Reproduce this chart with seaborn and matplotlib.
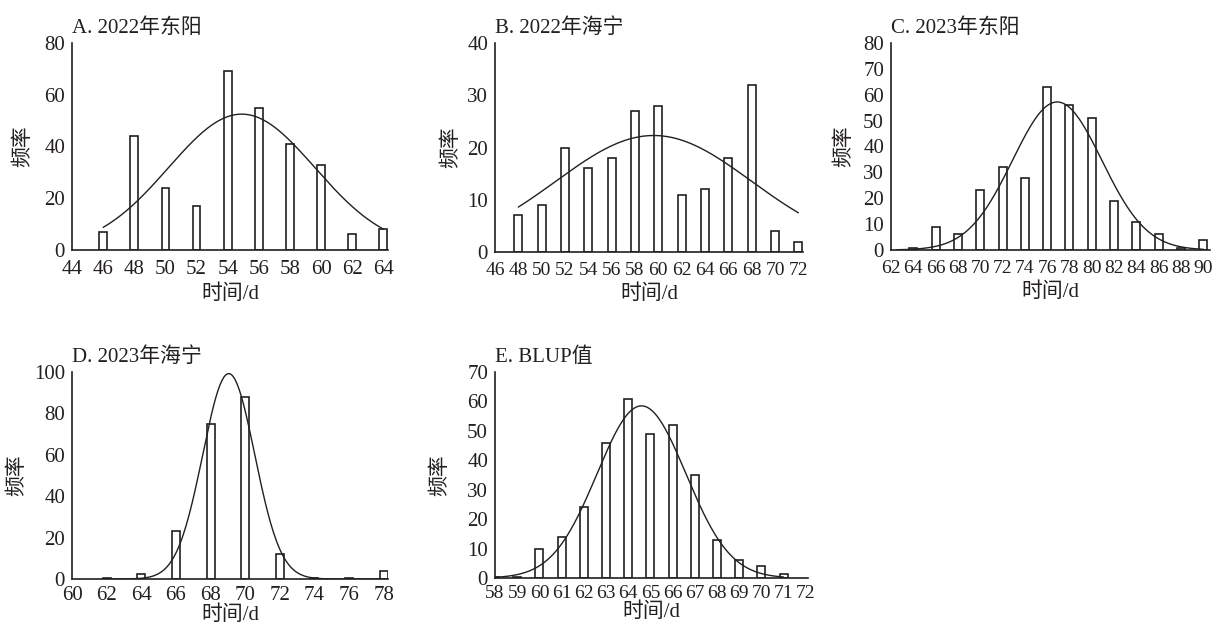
"""
五个环境下时间/d 频率分布直方图 + 正态拟合曲线
"""
import numpy as np
import matplotlib
matplotlib.use("Agg")
import matplotlib.pyplot as plt
import seaborn as sns

# ---- 数据 ----
a_days = [46, 48, 50, 52, 54, 56, 58, 60, 62, 64]
a_freq = [7, 44, 24, 17, 69, 55, 41, 33, 6, 8]

b_days = [48, 50, 52, 54, 56, 58, 60, 62, 64, 66, 68, 70, 72]
b_freq = [7, 9, 20, 16, 18, 27, 28, 11, 12, 18, 32, 4, 2]

c_days = [64, 66, 68, 70, 72, 74, 76, 78, 80, 82, 84, 86, 88, 90]
c_freq = [0.6, 9, 6, 23, 32, 28, 63, 56, 51, 19, 11, 6, 0.6, 4]

d_days = [62, 64, 66, 68, 70, 72, 74, 76, 78]
d_freq = [0.6, 2.5, 23, 75, 88, 12, 0.6, 0.6, 4]

e_days = [58, 59, 60, 61, 62, 63, 64, 65, 66, 67, 68, 69, 70, 71]
e_freq = [0.4, 0.5, 10, 14, 24, 46, 61, 49, 52, 35, 13, 6, 4, 1.5]

# 正态拟合曲线: 均值, 标准差, 峰值, 起点, 终点
a_curve = [54.9, 4.7, 52.5, 46, 64]
b_curve = [59.6, 8.4, 22.3, 48, 72]
c_curve = [76.9, 4.0, 57.2, 62.5, 90]
d_curve = [69.05, 1.5, 99.2, 62, 78]
e_curve = [64.6, 2.0, 58.5, 58, 71]

titles = ["A. 2022年东阳", "B. 2022年海宁", "C. 2023年东阳", "D. 2023年海宁", "E. BLUP值"]
x_ticks = [np.arange(44, 65, 2), np.arange(46, 73, 2), np.arange(62, 91, 2),
           np.arange(60, 79, 2), np.arange(58, 73, 1)]
x_lims = [(44, 64.3), (46, 72.4), (62, 90.6), (60, 78.25), (58, 72.1)]
y_ticks = [np.arange(0, 81, 20), np.arange(0, 41, 10), np.arange(0, 81, 10),
           np.arange(0, 101, 20), np.arange(0, 71, 10)]

INK = "#231f20"

sns.set_theme(style="white")
plt.rcParams["font.family"] = ["Liberation Serif", "Noto Sans CJK SC"]
plt.rcParams["text.color"] = INK
plt.rcParams["axes.labelcolor"] = INK
plt.rcParams["xtick.color"] = INK
plt.rcParams["ytick.color"] = INK

fig = plt.figure(figsize=(12.21, 6.3), dpi=100)

# 各子图位置 (figure fraction)
boxes = [
    [0.0590, 0.6032, 0.2588, 0.3286],
    [0.4054, 0.6000, 0.2523, 0.3317],
    [0.7297, 0.6032, 0.2613, 0.3286],
    [0.0590, 0.0810, 0.2588, 0.3286],
    [0.4054, 0.0825, 0.2563, 0.3270],
]
bar_w = [0.25, 0.34, 0.36, 0.23, 0.36]
ylabel_pad = [8, 4, 6.5, 5, 12]
xtick_size = [15, 14, 14, 15, 14]
xtick_pad = [7, 7, 7, 5, 5]
xlabel_pad = [4, 4, 4, 0, 0]

panels = [
    (a_days, a_freq, a_curve),
    (b_days, b_freq, b_curve),
    (c_days, c_freq, c_curve),
    (d_days, d_freq, d_curve),
    (e_days, e_freq, e_curve),
]

for i, (days, freq, curve) in enumerate(panels):
    ax = fig.add_axes(boxes[i])
    sns.barplot(x=days, y=freq, native_scale=True, width=bar_w[i],
                color="white", saturation=1, edgecolor=INK, linewidth=1.2,
                errorbar=None, ax=ax)

    mu, sd, peak, x0, x1 = curve
    xs = np.linspace(x0, x1, 300)
    ys = peak * np.exp(-(xs - mu) ** 2 / (2 * sd ** 2))
    sns.lineplot(x=xs, y=ys, color=INK, linewidth=1.0, ax=ax)

    ax.set_xlim(*x_lims[i])
    ax.set_ylim(0, y_ticks[i][-1])
    ax.set_xticks(x_ticks[i])
    ax.set_xticklabels([str(t) for t in x_ticks[i]])
    ax.set_yticks(y_ticks[i])
    ax.set_yticklabels([str(t) for t in y_ticks[i]])

    for side in ["top", "right"]:
        ax.spines[side].set_visible(False)
    for side in ["left", "bottom"]:
        ax.spines[side].set_color(INK)
        ax.spines[side].set_linewidth(1.2)

    ax.tick_params(axis="x", length=0, pad=xtick_pad[i], labelsize=xtick_size[i])
    ax.tick_params(axis="y", direction="in", length=6, width=1.2, pad=5, labelsize=15)

    ax.set_xlabel("时间/d", fontsize=15, labelpad=xlabel_pad[i])
    ax.set_ylabel("频率", fontsize=15, labelpad=ylabel_pad[i])
    ax.set_title(titles[i], loc="left", fontsize=15, pad=7)

fig.savefig("out.png", dpi=100)
